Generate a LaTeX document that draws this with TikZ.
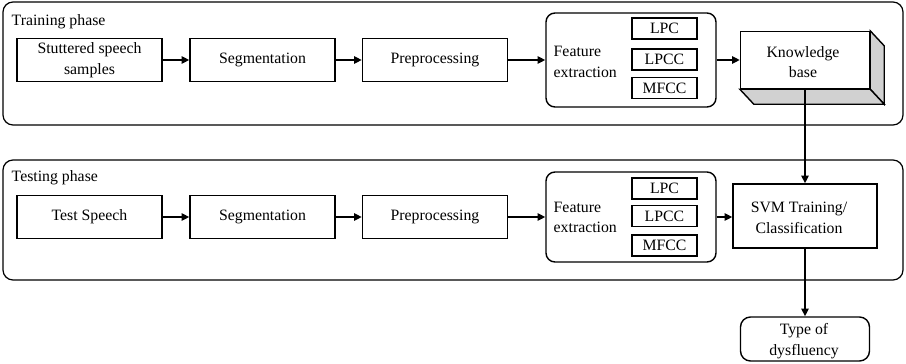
\documentclass[tikz,border=0pt]{standalone}
\usepackage{fontspec}
\setmainfont{Liberation Serif}
\usetikzlibrary{arrows.meta}
\tikzset{
  stage/.style={draw,inner sep=0pt,align=center,minimum width=72.5pt,minimum height=21.5pt},
  phase/.style={draw,line width=0.6pt,rounded corners=5pt,inner sep=0pt,minimum width=450pt},
  featbox/.style={draw,rounded corners=4.5pt,inner sep=0pt,minimum width=85pt},
  coef/.style={draw,inner sep=0pt,minimum width=32.5pt,minimum height=10.5pt},
  lbl/.style={inner sep=0pt,anchor=west,align=left},
}
\begin{document}
\begin{tikzpicture}[x=0.5pt,y=-0.5pt,line width=0.7pt,
    font=\fontsize{7.9}{10.3}\selectfont,>={Triangle[length=3.8pt,width=3.6pt]}]
  \useasboundingbox (0,0) rectangle (906,364);
  % training phase
  \node[phase,minimum height=61.5pt] (train) at (453,63.5) {};
  \node[lbl] (trainlbl) at (11,22) {Training phase};
  \node[stage] (stutter) at (89.5,60) {Stuttered speech\\samples};
  \node[stage] (segA) at (262.5,60) {Segmentation};
  \node[stage] (prepA) at (435,60) {Preprocessing};
  \node[featbox,minimum height=47pt] (featA) at (631,60) {};
  \node[lbl] (featAlbl) at (553,62) {Feature\\extraction};
  \node[coef] (lpcA) at (664.5,28.5) {LPC};
  \node[coef] (lpccA) at (664.5,59.5) {LPCC};
  \node[coef] (mfccA) at (664.5,88) {MFCC};
  \node[draw,inner sep=0pt,minimum width=64.5pt,minimum height=28.5pt,align=center] (kb) at (805,60) {};
  \filldraw[fill=black!18] (kb.north east) -- ([shift={(14,15)}]kb.north east)
    -- ([shift={(14,15)}]kb.south east) -- (kb.south east) -- cycle;
  \filldraw[fill=black!18] (kb.south west) -- ([shift={(14,15)}]kb.south west)
    -- ([shift={(14,15)}]kb.south east) -- (kb.south east) -- cycle;
  \node[align=center,inner sep=0pt] (kblbl) at (803,62) {Knowledge\\base};
  \draw[->] (stutter) -- (segA);
  \draw[->] (segA) -- (prepA);
  \draw[->] (prepA) -- (featA);
  \draw[->] (featA) -- (kb);
  % testing phase
  \node[phase,minimum height=60pt] (test) at (453,220) {};
  \node[lbl] (testlbl) at (11,178) {Testing phase};
  \node[stage] (speech) at (89.5,217) {Test Speech};
  \node[stage] (segB) at (262.5,217) {Segmentation};
  \node[stage] (prepB) at (435,217) {Preprocessing};
  \node[featbox,minimum height=45pt] (featB) at (631,217) {};
  \node[lbl] (featBlbl) at (553,217.5) {Feature\\extraction};
  \node[coef] (lpcB) at (664.5,188.5) {LPC};
  \node[coef] (lpccB) at (664.5,216) {LPCC};
  \node[coef] (mfccB) at (664.5,245.5) {MFCC};
  \node[draw,inner sep=0pt,minimum width=72pt,minimum height=32pt,align=center] (svm) at (805,216) {};
  \node[align=center,inner sep=0pt] (svmlbl) at (799,218) {SVM Training/\\Classification};
  \draw[->] (speech) -- (segB);
  \draw[->] (segB) -- (prepB);
  \draw[->] (prepB) -- (featB);
  \draw[->] (featB) -- (featB -| svm.west);
  % output
  \node[draw,rounded corners=5pt,inner sep=0pt,minimum width=64.5pt,minimum height=22pt,align=center] (dysfl) at (805,339) {};
  \node[align=center,inner sep=0pt] (dysfllbl) at (804,341) {Type of\\dysfluency};
  \draw[->] (kb) -- (svm);
  \draw[->] (svm) -- (dysfl);
\end{tikzpicture}
\end{document}
